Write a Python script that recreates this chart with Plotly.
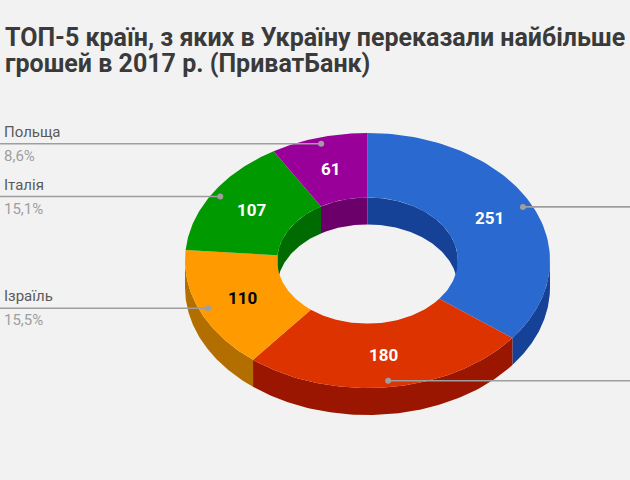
import numpy as np
import plotly.graph_objects as go

# ---- data ----
countries = ["Країна 1", "Країна 2", "Ізраїль", "Італія", "Польща"]
values = [251, 180, 110, 107, 61]
colors = ["#2a69d0", "#dc3300", "#ff9b00", "#009a00", "#990099"]
dark = ["#154196", "#9b1600", "#b36e00", "#006b00", "#6b006b"]
text_colors = ["white", "white", "black", "white", "white"]
title_lines = ["ТОП-5 країн, з яких в Україну переказали найбільше",
               "грошей в 2017 р. (ПриватБанк)"]

# ---- geometry (layout) ----
W, H = 630, 480
cx, cy = 367.5, 260.5
rx, ry = 182.5, 127.5
hole = 0.495
depth = 27
BG = "#f2f2f2"

total = sum(values)
fr = [v / total for v in values]
starts = np.cumsum([0] + [f * 360 for f in fr])[:-1]
ends = starts + np.array([f * 360 for f in fr])


def pt(phi, k, z=0.0):
    p = np.radians(phi)
    return cx + k * rx * np.sin(p), cy - k * ry * np.cos(p) + z


def arc(a, b, k, z=0.0, n=80):
    ph = np.linspace(a, b, n)
    return pt(ph, k, z)


def intersect(a, b, lo, hi):
    s, e = max(a, lo), min(b, hi)
    return (s, e) if e > s else None


fig = go.Figure()


def poly(xs, ys, color):
    fig.add_trace(go.Scatter(x=list(xs) + [xs[0]], y=list(ys) + [ys[0]], mode="lines",
                             fill="toself", fillcolor=color, line=dict(width=0, color=color),
                             hoverinfo="skip", showlegend=False))


# outer side walls (front half)
for i in range(len(values)):
    seg = intersect(starts[i], ends[i], 90, 270)
    if seg:
        x1, y1 = arc(seg[0], seg[1], 1.0, 0)
        x2, y2 = arc(seg[1], seg[0], 1.0, depth)
        poly(np.concatenate([x1, x2]), np.concatenate([y1, y2]), dark[i])

# inner walls (back half)
for i in range(len(values)):
    for lo, hi in [(-90, 90), (270, 450)]:
        seg = intersect(starts[i], ends[i], lo, hi)
        if seg:
            x1, y1 = arc(seg[0], seg[1], hole, 0)
            x2, y2 = arc(seg[1], seg[0], hole, depth)
            poly(np.concatenate([x1, x2]), np.concatenate([y1, y2]), dark[i])

# top faces
for i in range(len(values)):
    x1, y1 = arc(starts[i], ends[i], 1.0)
    x2, y2 = arc(ends[i], starts[i], hole)
    poly(np.concatenate([x1, x2]), np.concatenate([y1, y2]), colors[i])

annotations = []
# value labels
for i, v in enumerate(values):
    mid = (starts[i] + ends[i]) / 2
    x, y = pt(mid, 0.745)
    annotations.append(dict(x=x, y=y, xref="x", yref="y", text=f"<b>{v}</b>", showarrow=False,
                            font=dict(family="Roboto", size=17, color=text_colors[i])))

# leader lines and side labels
for i, v in enumerate(values):
    mid = (starts[i] + ends[i]) / 2
    x, y = pt(mid, 0.95)
    right = np.sin(np.radians(mid)) > 0
    xend = W if right else 0
    fig.add_trace(go.Scatter(x=[x, xend], y=[y, y], mode="lines",
                             line=dict(color="#9e9e9e", width=1.6),
                             hoverinfo="skip", showlegend=False))
    fig.add_trace(go.Scatter(x=[x], y=[y], mode="markers",
                             marker=dict(color="#9e9e9e", size=6),
                             hoverinfo="skip", showlegend=False))
    if not right:
        pct = f"{fr[i] * 100:.1f}".replace(".", ",") + "%"
        annotations.append(dict(x=2, y=y - 1, xref="x", yref="y", text=countries[i],
                                showarrow=False, xanchor="left", yanchor="bottom",
                                font=dict(family="Roboto", size=15, color="#5a5a5a")))
        annotations.append(dict(x=2, y=y + 1, xref="x", yref="y", text=pct,
                                showarrow=False, xanchor="left", yanchor="top",
                                font=dict(family="Roboto", size=15, color="#9e9e9e")))

for k, (line, ty) in enumerate(zip(title_lines, [37, 63])):
    annotations.append(dict(x=3, y=ty, xref="x", yref="y", text="<b>" + line + "</b>",
                            showarrow=False, xanchor="left", yanchor="middle", align="left",
                            font=dict(family="Roboto", size=25, color="#3a3a3a")))

fig.update_layout(
    width=W, height=H, margin=dict(l=0, r=0, t=0, b=0),
    paper_bgcolor=BG, plot_bgcolor=BG,
    xaxis=dict(range=[0, W], visible=False, fixedrange=True),
    yaxis=dict(range=[H, 0], visible=False, fixedrange=True),
    annotations=annotations, showlegend=False,
)
fig.write_html("out.html")
